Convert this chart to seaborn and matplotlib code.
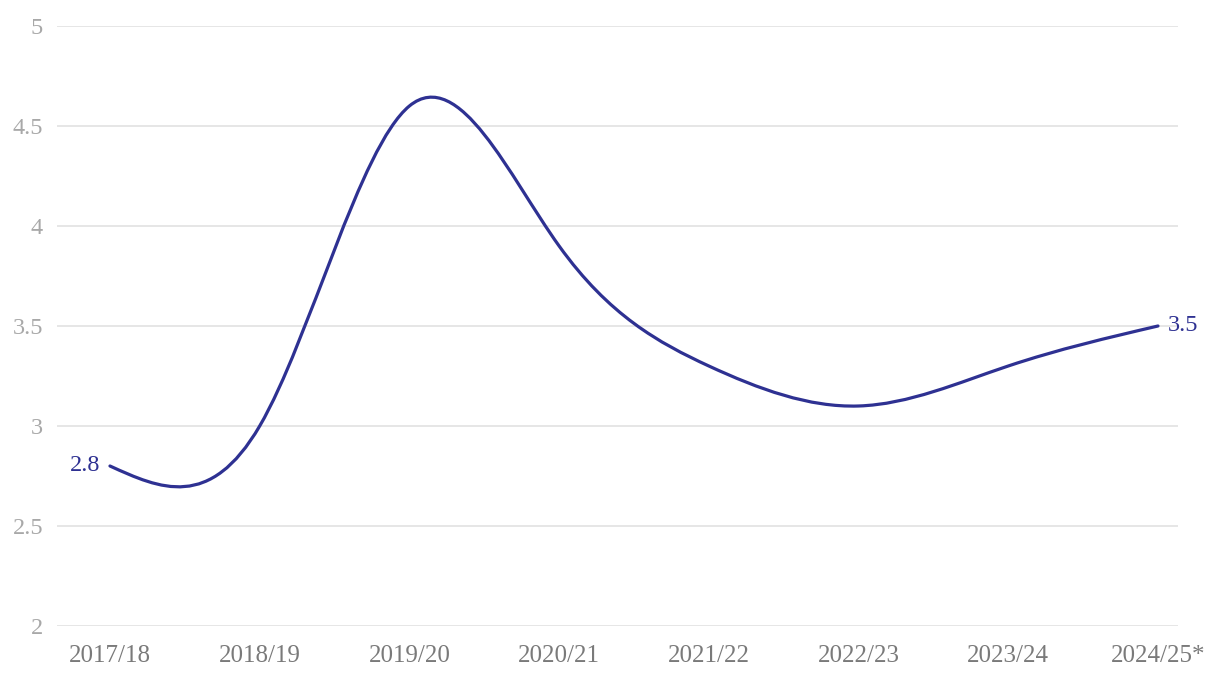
import numpy as np
import matplotlib
matplotlib.use("Agg")
import matplotlib.pyplot as plt
from matplotlib.path import Path
from matplotlib.patches import PathPatch
import seaborn as sns

# data
years = ["2017/18", "2018/19", "2019/20", "2020/21", "2021/22", "2022/23", "2023/24", "2024/25*"]
values = [2.8, 3.0, 4.6, 3.9, 3.3, 3.1, 3.3, 3.5]
y_ticks = [2, 2.5, 3, 3.5, 4, 4.5, 5]
y_tick_labels = ["2", "2.5", "3", "3.5", "4", "4.5", "5"]

line_color = "#2e3192"

sns.set_theme(style="white")
plt.rcParams["font.family"] = ["Liberation Serif", "DejaVu Serif"]

fig = plt.figure(figsize=(12.2, 6.8), dpi=100)
ax = fig.add_axes([0.0467, 0.0794, 0.9189, 0.8824])

# invisible seaborn line sets up the categorical x axis
sns.lineplot(x=years, y=values, ax=ax, linewidth=0, sort=False)

# natural cubic spline through the points (like d3 curveNatural), drawn as bezier path
y = np.array(values, dtype=float)
n = len(y)
xs = np.arange(n, dtype=float)
A = np.zeros((n, n))
rhs = np.zeros(n)
A[0, 0] = 1
A[-1, -1] = 1
for i in range(1, n - 1):
    A[i, i - 1] = 1
    A[i, i] = 4
    A[i, i + 1] = 1
    rhs[i] = 6 * (y[i + 1] - 2 * y[i] + y[i - 1])
M = np.linalg.solve(A, rhs)

verts = [(xs[0], y[0])]
codes = [Path.MOVETO]
for i in range(n - 1):
    dy = y[i + 1] - y[i]
    s0 = dy - (2 * M[i] + M[i + 1]) / 6
    s1 = dy + (M[i] + 2 * M[i + 1]) / 6
    verts += [(xs[i] + 1 / 3, y[i] + s0 / 3),
              (xs[i + 1] - 1 / 3, y[i + 1] - s1 / 3),
              (xs[i + 1], y[i + 1])]
    codes += [Path.CURVE4] * 3
ax.add_patch(PathPatch(Path(verts, codes), facecolor="none", edgecolor=line_color,
                       linewidth=2.3, capstyle="round", zorder=3))

# end labels
ax.annotate(f"{values[0]}", (0, values[0]), xytext=(-7, 0), textcoords="offset points",
            ha="right", va="center", fontsize=17.5, color=line_color)
ax.annotate(f"{values[-1]}", (n - 1, values[-1]), xytext=(7, 0), textcoords="offset points",
            ha="left", va="center", fontsize=17.5, color=line_color)

ax.set_xlim(-0.354, 7.134)
ax.set_ylim(2, 5)
ax.set_yticks(y_ticks)
ax.set_yticklabels(y_tick_labels)
ax.grid(axis="y", color="#e6e6e6", linewidth=1.4)
ax.set_axisbelow(True)
for s in ax.spines.values():
    s.set_visible(False)
ax.tick_params(axis="y", length=0, pad=10, labelsize=17.5, labelcolor="#a8a8a8")
ax.tick_params(axis="x", length=0, pad=14, labelsize=18, labelcolor="#7a7a7a")
ax.set_xlabel("")
ax.set_ylabel("")

fig.savefig("out.png", dpi=100)
